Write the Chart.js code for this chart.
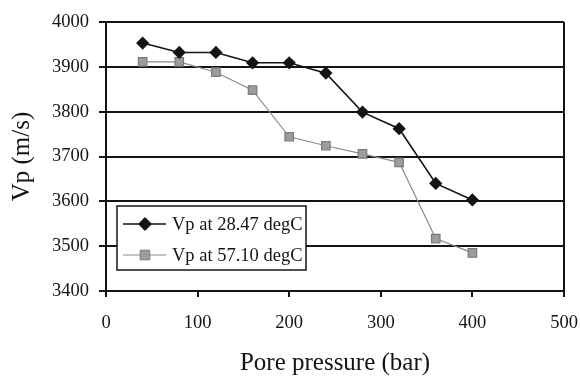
<!DOCTYPE html>
<html>
<head>
<meta charset="utf-8">
<script src="https://cdn.jsdelivr.net/npm/chart.js@4"></script>
<style>
  html, body { margin: 0; padding: 0; background: #fff; }
  #wrap { width: 580px; height: 378px; position: relative; }
</style>
</head>
<body>
<div id="wrap"><canvas id="chart" width="580" height="378"></canvas></div>
<script>
// pressure in bar, velocity in m/s
const pressures = [40, 80, 120, 160, 200, 240, 280, 320, 360, 400];
const vpLow  = [3953, 3932, 3932, 3909, 3909, 3886, 3799, 3762, 3640, 3603];
const vpHigh = [3911, 3911, 3888, 3848, 3744, 3724, 3706, 3687, 3517, 3485];
const seriesLabels = ['Vp at 28.47 degC', 'Vp at 57.10 degC'];
const xTicks = [0, 100, 200, 300, 400, 500];
const yTicks = [3400, 3500, 3600, 3700, 3800, 3900, 4000];

const serif = "'Liberation Serif', 'DejaVu Serif', serif";
const ink = '#141414';

function toPoints(ys) {
  return pressures.map((p, i) => ({ x: p, y: ys[i] }));
}

// legend box drawn inside the plot (lower left)
const boxLegend = {
  id: 'boxLegend',
  afterDatasetsDraw(chart) {
    const ctx = chart.ctx;
    const bx = 117, by = 206, bw = 189, bh = 64;
    ctx.save();
    ctx.fillStyle = '#fff';
    ctx.fillRect(bx, by, bw, bh);
    ctx.strokeStyle = ink;
    ctx.lineWidth = 1.5;
    ctx.strokeRect(bx, by, bw, bh);
    ctx.font = '18.5px ' + serif;
    ctx.textBaseline = 'middle';
    chart.data.datasets.forEach((ds, i) => {
      const y = by + 18 + i * 31;
      ctx.strokeStyle = ds.borderColor;
      ctx.lineWidth = ds.borderWidth;
      ctx.beginPath();
      ctx.moveTo(bx + 6, y);
      ctx.lineTo(bx + 49, y);
      ctx.stroke();
      const cx = bx + 28;
      ctx.fillStyle = ds.pointBackgroundColor;
      ctx.strokeStyle = ds.pointBorderColor;
      ctx.lineWidth = 1;
      ctx.beginPath();
      if (ds.pointStyle === 'rectRot') {
        const r = ds.pointRadius + 1;
        ctx.moveTo(cx, y - r); ctx.lineTo(cx + r, y); ctx.lineTo(cx, y + r); ctx.lineTo(cx - r, y);
        ctx.closePath();
      } else {
        const r = ds.pointRadius * 0.8;
        ctx.rect(cx - r, y - r, 2 * r, 2 * r);
      }
      ctx.fill();
      ctx.stroke();
      ctx.fillStyle = ink;
      ctx.fillText(ds.label, bx + 55, y + 1);
    });
    ctx.restore();
  }
};

new Chart(document.getElementById('chart'), {
  type: 'line',
  data: {
    datasets: [
      {
        label: seriesLabels[0],
        data: toPoints(vpLow),
        borderColor: ink,
        borderWidth: 1.6,
        pointStyle: 'rectRot',
        pointRadius: 5.5,
        pointBackgroundColor: ink,
        pointBorderColor: ink,
        tension: 0,
      },
      {
        label: seriesLabels[1],
        data: toPoints(vpHigh),
        borderColor: '#8a8a8a',
        borderWidth: 1.2,
        pointStyle: 'rect',
        pointRadius: 6,
        pointBackgroundColor: '#9c9c9c',
        pointBorderColor: '#7a7a7a',
        tension: 0,
      },
    ],
  },
  options: {
    responsive: false,
    animation: false,
    layout: { padding: { top: 22, right: 16, left: 0, bottom: 0 }, autoPadding: false },
    plugins: {
      legend: { display: false },
      tooltip: { enabled: false },
    },
    scales: {
      x: {
        type: 'linear',
        min: 0,
        max: 500,
        afterBuildTicks: (s) => { s.ticks = xTicks.map(v => ({ value: v })); },
        afterFit: (s) => { s.height = 87; s.paddingLeft = 0; s.paddingRight = 0; },
        ticks: { color: ink, font: { family: serif, size: 18.5 }, padding: 15, callback: (v) => String(v) },
        grid: {
          color: (c) => (c.tick && c.tick.value === 500 ? ink : 'rgba(0,0,0,0)'),
          tickColor: ink,
          lineWidth: 2,
          tickLength: 6,
        },
        border: { display: true, color: ink, width: 2 },
        title: {
          display: true,
          text: 'Pore pressure (bar)',
          color: ink,
          font: { family: serif, size: 25 },
          padding: { top: 0, bottom: 0 },
        },
      },
      y: {
        min: 3400,
        max: 4000,
        afterBuildTicks: (s) => { s.ticks = yTicks.map(v => ({ value: v })); },
        afterFit: (s) => { s.width = 106; s.paddingTop = 0; s.paddingBottom = 0; },
        ticks: { color: ink, font: { family: serif, size: 18.5 }, padding: 10, callback: (v) => String(v) },
        grid: { color: ink, tickColor: ink, lineWidth: 2, tickLength: 7 },
        border: { display: true, color: ink, width: 2 },
        title: {
          display: true,
          text: 'Vp (m/s)',
          color: ink,
          font: { family: serif, size: 25 },
          padding: { top: 7, bottom: 0 },
        },
      },
    },
  },
  plugins: [boxLegend],
});
</script>
</body>
</html>
